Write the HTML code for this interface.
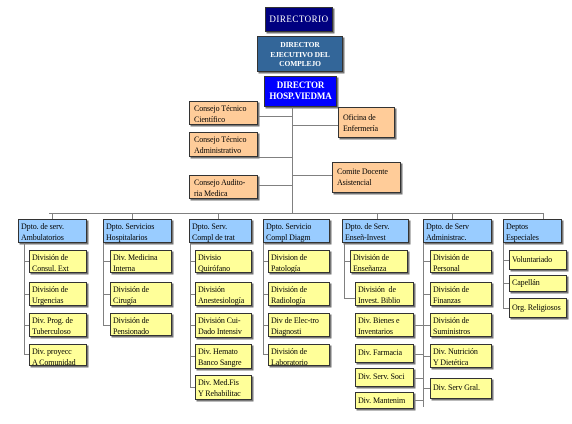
<!DOCTYPE html>
<html><head><meta charset="utf-8"><style>
body{margin:0;width:572px;height:424px;background:#fff;position:relative;overflow:hidden;font-family:"Liberation Serif",serif;}
.b{position:absolute;box-sizing:border-box;border:1px solid #333;font-size:8px;line-height:11px;padding:1px 2px;color:#000;box-shadow:1.5px 1.5px 0 #777;overflow:hidden;white-space:nowrap;letter-spacing:-0.1px;}
.o{background:#FFCC99;padding:1px 4px;line-height:11px;}
.y{background:#FFFF99;}
.c{background:#99CCFF;}
.h{position:absolute;height:1px;background:#808080;}
.v{position:absolute;width:1px;background:#808080;}
.t{color:#fff;font-weight:bold;text-align:center;font-size:8.5px;}
</style></head><body>
<div class="b t" style="left:265px;top:7px;width:68px;height:25px;background:#000080;line-height:21px;letter-spacing:0.5px;font-weight:normal;font-size:9px">DIRECTORIO</div>
<div class="b t" style="left:257px;top:36px;width:86px;height:36px;background:#336699;font-size:7.5px;line-height:9.5px;padding-top:3px">DIRECTOR<br>EJECUTIVO DEL<br>COMPLEJO</div>
<div class="b t" style="left:264px;top:76px;width:73px;height:31px;background:#0000FF;font-size:9px;line-height:11px;padding-top:3px">DIRECTOR<br>HOSP.VIEDMA</div>

<div class="v" style="left:292px;top:107px;height:106px"></div>
<div class="h" style="left:258px;top:116px;width:34px"></div>
<div class="h" style="left:292px;top:125px;width:46px"></div>
<div class="h" style="left:258px;top:157px;width:34px"></div>
<div class="h" style="left:292px;top:175px;width:40px"></div>
<div class="h" style="left:258px;top:185px;width:34px"></div>

<div class="b o" style="left:189px;top:101px;width:69px;height:24px">Consejo Técnico<br>Científico</div>
<div class="b o" style="left:189px;top:132px;width:69px;height:25px">Consejo Técnico<br>Administrativo</div>
<div class="b o" style="left:189px;top:175px;width:69px;height:24px">Consejo Audito-<br>ria Medica</div>
<div class="b o" style="left:338px;top:107px;width:57px;height:31px;padding-top:4px">Oficina de<br>Enfermería</div>
<div class="b o" style="left:332px;top:162px;width:69px;height:31px;padding-top:3px">Comite Docente<br>Asistencial</div>

<div class="h" style="left:49px;top:213px;width:495px"></div>
<div class="v" style="left:52px;top:213px;height:6px"></div>
<div class="v" style="left:132px;top:213px;height:6px"></div>
<div class="v" style="left:218px;top:213px;height:6px"></div>
<div class="v" style="left:377px;top:213px;height:6px"></div>
<div class="v" style="left:452px;top:213px;height:6px"></div>
<div class="v" style="left:543px;top:213px;height:6px"></div>

<div class="b c" style="left:18px;top:219px;width:69px;height:24px">Dpto. de serv.<br>Ambulatorios</div>
<div class="b c" style="left:103px;top:219px;width:69px;height:24px">Dpto. Servicios<br>Hospitalarios</div>
<div class="b c" style="left:189px;top:219px;width:63px;height:24px">Dpto. Serv.<br>Compl de trat</div>
<div class="b c" style="left:263px;top:219px;width:67px;height:24px">Dpto. Servicio<br>Compl Diagm</div>
<div class="b c" style="left:342px;top:219px;width:67px;height:24px">Dpto. de Serv.<br>Enseñ-Invest</div>
<div class="b c" style="left:423px;top:219px;width:69px;height:24px">Dpto. de Serv<br>Administrac.</div>
<div class="b c" style="left:503px;top:219px;width:59px;height:24px">Deptos<br>Especiales</div>

<div class="v" style="left:24px;top:243px;height:111px"></div>
<div class="h" style="left:24px;top:261px;width:5px"></div>
<div class="h" style="left:24px;top:294px;width:5px"></div>
<div class="h" style="left:24px;top:325px;width:5px"></div>
<div class="h" style="left:24px;top:354px;width:5px"></div>
<div class="b y" style="left:29px;top:250px;width:58px;height:23px">División de<br>Consul. Ext</div>
<div class="b y" style="left:29px;top:282px;width:58px;height:24px">División de<br>Urgencias</div>
<div class="b y" style="left:29px;top:313px;width:58px;height:24px">Div. Prog. de<br>Tuberculoso</div>
<div class="b y" style="left:29px;top:344px;width:58px;height:22px">Div. proyecc<br>A Comunidad</div>

<div class="v" style="left:103px;top:243px;height:82px"></div>
<div class="h" style="left:103px;top:261px;width:7px"></div>
<div class="h" style="left:103px;top:294px;width:7px"></div>
<div class="h" style="left:103px;top:325px;width:7px"></div>
<div class="b y" style="left:110px;top:250px;width:62px;height:23px">Div. Medicina<br>Interna</div>
<div class="b y" style="left:110px;top:282px;width:62px;height:24px">División de<br>Cirugía</div>
<div class="b y" style="left:110px;top:313px;width:62px;height:23px">División de<br>Pensionado</div>

<div class="v" style="left:190px;top:243px;height:145px"></div>
<div class="h" style="left:190px;top:261px;width:5px"></div>
<div class="h" style="left:190px;top:294px;width:5px"></div>
<div class="h" style="left:190px;top:325px;width:5px"></div>
<div class="h" style="left:190px;top:356px;width:5px"></div>
<div class="h" style="left:190px;top:387px;width:5px"></div>
<div class="b y" style="left:195px;top:250px;width:57px;height:23px">Divisio<br>Quirófano</div>
<div class="b y" style="left:195px;top:282px;width:57px;height:24px">División<br>Anestesiología</div>
<div class="b y" style="left:195px;top:313px;width:57px;height:25px">División Cui-<br>Dado Intensiv</div>
<div class="b y" style="left:195px;top:344px;width:57px;height:25px">Div. Hemato<br>Banco Sangre</div>
<div class="b y" style="left:195px;top:375px;width:57px;height:25px">Div. Med.Fis<br>Y Rehabilitac</div>

<div class="v" style="left:263px;top:243px;height:111px"></div>
<div class="h" style="left:263px;top:261px;width:5px"></div>
<div class="h" style="left:263px;top:294px;width:5px"></div>
<div class="h" style="left:263px;top:325px;width:5px"></div>
<div class="h" style="left:263px;top:354px;width:5px"></div>
<div class="b y" style="left:268px;top:250px;width:62px;height:23px">Division de<br>Patología</div>
<div class="b y" style="left:268px;top:282px;width:62px;height:24px">División de<br>Radiología</div>
<div class="b y" style="left:268px;top:313px;width:62px;height:24px">Div de Elec-tro<br>Diagnosti</div>
<div class="b y" style="left:268px;top:344px;width:62px;height:22px">División de<br>Laboratorio</div>

<div class="v" style="left:344px;top:243px;height:56px"></div>
<div class="h" style="left:344px;top:261px;width:6px"></div>
<div class="h" style="left:344px;top:298px;width:11px"></div>
<div class="b y" style="left:350px;top:250px;width:58px;height:23px">División de<br>Enseñanza</div>
<div class="b y" style="left:355px;top:282px;width:59px;height:24px">División &nbsp;de<br>Invest. Biblio</div>
<div class="b y" style="left:355px;top:313px;width:59px;height:24px">Div. Bienes e<br>Inventarios</div>
<div class="b y" style="left:355px;top:344px;width:59px;height:19px;line-height:14px">Div. Farmacia</div>
<div class="b y" style="left:355px;top:368px;width:59px;height:19px;line-height:14px">Div. Serv. Soci</div>
<div class="b y" style="left:355px;top:392px;width:59px;height:17px;line-height:13px">Div. Mantenim</div>

<div class="v" style="left:423px;top:243px;height:164px"></div>
<div class="h" style="left:414px;top:325px;width:16px"></div>
<div class="h" style="left:414px;top:354px;width:9px"></div>
<div class="h" style="left:414px;top:378px;width:9px"></div>
<div class="h" style="left:414px;top:400px;width:9px"></div>
<div class="h" style="left:423px;top:261px;width:7px"></div>
<div class="h" style="left:423px;top:294px;width:7px"></div>
<div class="h" style="left:423px;top:356px;width:7px"></div>
<div class="h" style="left:423px;top:388px;width:7px"></div>
<div class="b y" style="left:430px;top:250px;width:62px;height:23px">División de<br>Personal</div>
<div class="b y" style="left:430px;top:282px;width:62px;height:24px">División de<br>Finanzas</div>
<div class="b y" style="left:430px;top:313px;width:62px;height:24px">División de<br>Suministros</div>
<div class="b y" style="left:430px;top:344px;width:62px;height:24px">Div. Nutrición<br>Y Dietética</div>
<div class="b y" style="left:430px;top:378px;width:62px;height:21px;line-height:16px">Div. Serv Gral.</div>

<div class="v" style="left:503px;top:243px;height:66px"></div>
<div class="h" style="left:503px;top:260px;width:6px"></div>
<div class="h" style="left:503px;top:283px;width:6px"></div>
<div class="h" style="left:503px;top:308px;width:6px"></div>
<div class="b y" style="left:509px;top:250px;width:58px;height:20px;line-height:15px">Voluntariado</div>
<div class="b y" style="left:509px;top:275px;width:58px;height:17px;line-height:12px">Capellán</div>
<div class="b y" style="left:509px;top:298px;width:58px;height:20px;line-height:15px">Org. Religiosos</div>
</body></html>
